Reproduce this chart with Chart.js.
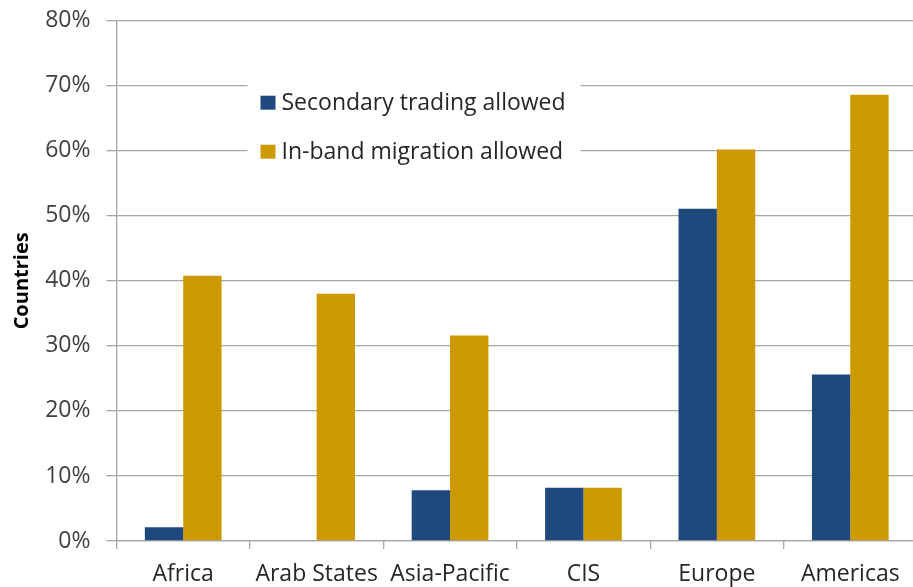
<!DOCTYPE html>
<html>
<head>
<meta charset="utf-8">
<script src="https://cdn.jsdelivr.net/npm/chart.js@4"></script>
<style>
  html, body { margin: 0; padding: 0; background: #fff; overflow: hidden; }
  #wrap { width: 917px; height: 587px; position: relative; }
</style>
</head>
<body>
<div id="wrap"><canvas id="chart"></canvas></div>
<script>
const categories = ['Africa', 'Arab States', 'Asia-Pacific', 'CIS', 'Europe', 'Americas'];
const seriesNames = ['Secondary trading allowed', 'In-band migration allowed'];
const secondaryTrading = [2.1, 0, 7.8, 8.2, 51.1, 25.6];
const inBandMigration = [40.8, 38.0, 31.6, 8.2, 60.2, 68.6];
const yMax = 80;
const yStep = 10;
const yTitle = 'Countries';

const BLUE = '#1f497d';
const GOLD = '#cc9a00';
const GRID = '#a6a6a6';
const FONT = '"Open Sans", "DejaVu Sans", sans-serif';

// legend sits inside the plot area on a white box, like the original
const insideLegend = {
    id: 'insideLegend',
    afterDraw(chart) {
        const ctx = chart.ctx;
        const left = chart.chartArea.left;
        const top = chart.chartArea.top;
        ctx.save();
        ctx.fillStyle = '#fff';
        ctx.fillRect(left + 131, top + 52, 333, 118);
        ctx.font = '23px ' + FONT;
        ctx.textBaseline = 'middle';
        chart.data.datasets.forEach((ds, i) => {
            const y = top + 82 + i * 49;
            ctx.fillStyle = ds.backgroundColor;
            ctx.fillRect(left + 144, y - 7, 15, 14);
            ctx.fillStyle = '#262626';
            ctx.fillText(ds.label, left + 165, y + 1);
        });
        ctx.restore();
    }
};

const ctx = document.getElementById('chart').getContext('2d');
new Chart(ctx, {
    type: 'bar',
    data: {
        labels: categories,
        datasets: [
            { label: seriesNames[0], data: secondaryTrading, backgroundColor: BLUE },
            { label: seriesNames[1], data: inBandMigration, backgroundColor: GOLD }
        ]
    },
    options: {
        responsive: true,
        maintainAspectRatio: false,
        animation: false,
        layout: { padding: { top: 20.7, left: 0, right: 0, bottom: 0 } },
        datasets: {
            bar: { barPercentage: 1, categoryPercentage: 0.575 }
        },
        plugins: {
            legend: { display: false },
            tooltip: { enabled: false }
        },
        scales: {
            x: {
                grid: {
                    drawOnChartArea: false,
                    drawTicks: true,
                    tickLength: 8,
                    color: GRID,
                    lineWidth: 1.3
                },
                border: { color: GRID, width: 1.3 },
                ticks: {
                    color: '#262626',
                    font: { family: FONT, size: 23 },
                    padding: 12,
                    maxRotation: 0,
                    autoSkip: false
                },
                afterFit(scale) { scale.height = 46; }
            },
            y: {
                min: 0,
                max: yMax,
                ticks: {
                    stepSize: yStep,
                    color: '#404040',
                    font: { family: FONT, size: 23 },
                    padding: 16,
                    callback: v => v + '%'
                },
                grid: { color: GRID, lineWidth: 1.3, tickLength: 10 },
                border: { color: GRID, width: 1.3 },
                title: {
                    display: true,
                    text: yTitle,
                    color: '#000',
                    font: { family: FONT, size: 20, weight: 'bold' },
                    padding: { top: 10, bottom: 0 }
                },
                afterFit(scale) {
                    scale.width = 116.5;
                    scale.paddingTop = 0;
                    scale.paddingBottom = 0;
                }
            }
        }
    },
    plugins: [insideLegend]
});
</script>
</body>
</html>
